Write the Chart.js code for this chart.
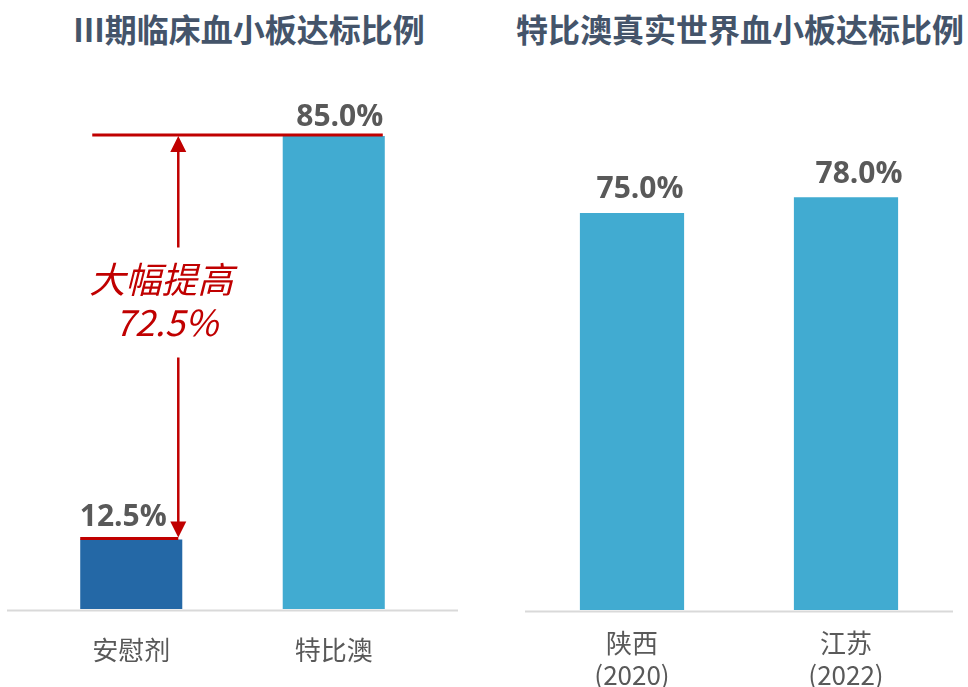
<!DOCTYPE html>
<html>
<head>
<meta charset="utf-8">
<script src="https://cdn.jsdelivr.net/npm/chart.js@4.4.1/dist/chart.umd.min.js"></script>
<style>
  html, body { margin: 0; padding: 0; background: #fff; }
  body { width: 968px; height: 687px; position: relative; overflow: hidden; }
  .title { position: absolute; font-family: "Noto Sans CJK SC"; font-weight: bold; color: #44546A; white-space: nowrap; line-height: 1; text-align: center; font-size: 32px; top: 12px; }
  #t1 { left: 0; width: 498px; }
  #t2 { left: 490px; width: 500px; }
  canvas { position: absolute; top: 0; }
  #trialChart { left: 0; }
  #realChart { left: 484px; }
</style>
</head>
<body>
<div class="title" id="t1">III期临床血小板达标比例</div>
<div class="title" id="t2">特比澳真实世界血小板达标比例</div>
<canvas id="trialChart" width="484" height="687"></canvas>
<canvas id="realChart" width="484" height="687"></canvas>
<script>
// clinical trial (left panel)
const trialLabels = ['安慰剂', '特比澳'];
const trialValues = [12.5, 85.0];
const trialColors = ['#2468A6', '#41ABD1'];
const trialGainText = ['大幅提高', '72.5%'];

// real world (right panel)
const realLabels = [['陕西', '(2020)'], ['江苏', '(2022)']];
const realValues = [75.0, 78.0];

// value labels above the bars
const valueLabels = {
  id: 'valueLabels',
  afterDatasetsDraw(chart, args, opts) {
    const ctx = chart.ctx;
    const values = chart.data.datasets[0].data;
    ctx.save();
    ctx.font = 'bold 30px "Open Sans"';
    ctx.fillStyle = '#595959';
    ctx.textAlign = 'center';
    ctx.textBaseline = 'alphabetic';
    chart.getDatasetMeta(0).data.forEach((bar, i) => {
      const off = opts.offsets[i];
      ctx.fillText(values[i].toFixed(1) + '%', bar.x + off[0], bar.y - off[1]);
    });
    ctx.restore();
  }
};

// grey axis line, a bit wider than the plot area on the left panel
const baseline = {
  id: 'baseline',
  beforeDatasetsDraw(chart, args, opts) {
    const { ctx, chartArea } = chart;
    ctx.save();
    ctx.strokeStyle = '#D9D9D9';
    ctx.lineWidth = 2;
    ctx.beginPath();
    ctx.moveTo(chartArea.left - opts.extend[0], chartArea.bottom + 1.5);
    ctx.lineTo(chartArea.right + opts.extend[1], chartArea.bottom + 1.5);
    ctx.stroke();
    ctx.restore();
  }
};

// red bracket + arrow showing the gain
const gainArrow = {
  id: 'gainArrow',
  afterDatasetsDraw(chart) {
    const { ctx, scales: { y } } = chart;
    const bars = chart.getDatasetMeta(0).data;
    const yTop = y.getPixelForValue(trialValues[1]) - 1;
    const yLow = y.getPixelForValue(trialValues[0]) - 1;
    const ax = bars[0].x + bars[0].width / 2 - 4;
    const mid = yTop + (yLow - yTop) * 0.41;

    ctx.save();
    ctx.strokeStyle = '#C00000';
    ctx.fillStyle = '#C00000';

    ctx.lineWidth = 3;
    ctx.beginPath();
    ctx.moveTo(bars[0].x - 39, yTop);
    ctx.lineTo(bars[1].x + bars[1].width / 2 - 2, yTop);
    ctx.moveTo(bars[0].x - bars[0].width / 2, yLow);
    ctx.lineTo(ax, yLow);
    ctx.stroke();

    ctx.lineWidth = 2.5;
    ctx.beginPath();
    ctx.moveTo(ax, yTop + 14);
    ctx.lineTo(ax, mid - 53);
    ctx.moveTo(ax, mid + 57);
    ctx.lineTo(ax, yLow - 14);
    ctx.stroke();

    // arrow heads
    ctx.beginPath();
    ctx.moveTo(ax, yTop + 1);
    ctx.lineTo(ax - 8, yTop + 17);
    ctx.lineTo(ax + 8, yTop + 17);
    ctx.closePath();
    ctx.moveTo(ax, yLow - 1);
    ctx.lineTo(ax - 8, yLow - 17);
    ctx.lineTo(ax + 8, yLow - 17);
    ctx.closePath();
    ctx.fill();

    ctx.font = 'italic 36px "Noto Sans CJK SC"';
    ctx.textAlign = 'center';
    ctx.textBaseline = 'middle';
    ctx.fillText(trialGainText[0], ax - 17, mid - 21);
    ctx.fillText(trialGainText[1], ax - 12, mid + 22);
    ctx.restore();
  }
};

function barOptions(padding, axisHeight, tickPad, offsets, extend) {
  return {
    responsive: false,
    animation: false,
    layout: { padding: padding },
    plugins: {
      legend: { display: false },
      tooltip: { enabled: false },
      valueLabels: { offsets: offsets },
      baseline: { extend: extend }
    },
    scales: {
      x: {
        grid: { display: false, drawTicks: false },
        border: { display: false },
        ticks: {
          color: '#595959',
          font: { family: '"Noto Sans CJK SC"', size: 26, lineHeight: 1.2 },
          padding: tickPad,
          maxRotation: 0,
          autoSkip: false
        },
        afterFit(scale) { scale.height = axisHeight; }
      },
      y: { display: false, min: 0, max: 100 }
    }
  };
}

new Chart(document.getElementById('trialChart'), {
  type: 'bar',
  data: {
    labels: trialLabels,
    datasets: [{
      data: trialValues,
      backgroundColor: trialColors,
      barPercentage: 0.504,
      categoryPercentage: 1
    }]
  },
  options: barOptions({ left: 30, right: 49, top: 52.5, bottom: 0 }, 78, 26,
    [[-8, 13], [6, 10]], [23, 23]),
  plugins: [baseline, valueLabels, gainArrow]
});

new Chart(document.getElementById('realChart'), {
  type: 'bar',
  data: {
    labels: realLabels,
    datasets: [{
      data: realValues,
      backgroundColor: '#41ABD1',
      barPercentage: 0.487,
      categoryPercentage: 1
    }]
  },
  options: barOptions({ left: 41, right: 15, top: 80.7, bottom: 0 }, 77, 18,
    [[8, 15], [13, 14]], [0, 0]),
  plugins: [baseline, valueLabels]
});
</script>
</body>
</html>
